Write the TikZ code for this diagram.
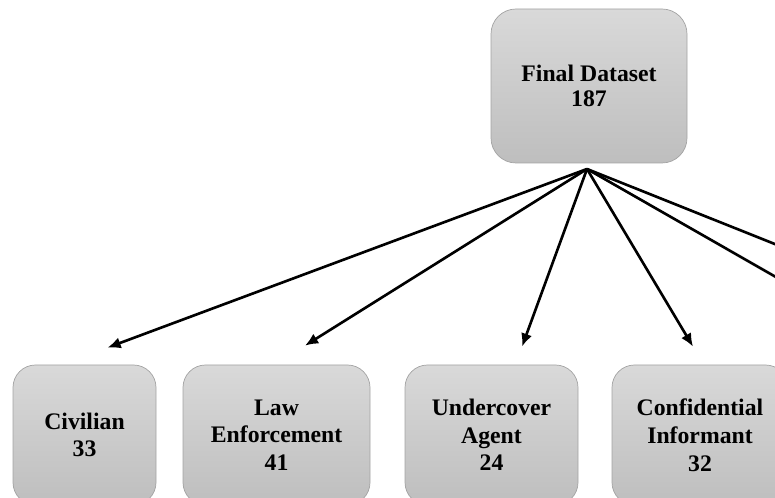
\documentclass[tikz,border=0pt]{standalone}
\usepackage{fontspec}
\setmainfont{Liberation Serif}
\usetikzlibrary{arrows.meta}
\definecolor{boxtop}{HTML}{D9D9D9}
\definecolor{boxbottom}{HTML}{BEBEBE}
\definecolor{boxline}{HTML}{A3A3A3}
\begin{document}
\begin{tikzpicture}[
 category/.style={draw=boxline,top color=boxtop,bottom color=boxbottom,
   rounded corners=0.45cm,minimum height=2.8cm,inner sep=2pt,align=center,
   font=\fontsize{13.5}{15.8}\selectfont\bfseries},
 dataset/.style={category,minimum width=3.92cm,minimum height=3.08cm,
   rounded corners=0.5cm,font=\fontsize{13.5}{14.4}\selectfont\bfseries},
 split/.style={-{Latex[length=7.5pt,width=6.5pt]},line width=1.5pt}
]
\useasboundingbox (0,0) rectangle (15.5,9.96);
\clip (0,0) rectangle (15.5,9.96);
\node[dataset] (final) at (11.78,8.24) {Final Dataset\\187};
\coordinate (hub) at (11.74,6.58);
\node[category,minimum width=2.86cm] (civilian) at (1.69,1.26) {Civilian\\33};
\node[category,minimum width=3.74cm] (lawenf) at (5.53,1.26) {Law\\Enforcement\\41};
\node[category,minimum width=3.46cm] (undercover) at (9.83,1.26) {Undercover\\Agent\\24};
\node[category,minimum width=3.52cm] (informant) at (14.0,1.26) {Confidential\\Informant\\32};
% two more groups lie past the right edge
\coordinate (beyond1) at (20.0,3.28);
\coordinate (beyond2) at (18.0,3.00);
\draw[split] (hub) -- ([xshift=0.46cm,yshift=0.34cm]civilian.north);
\draw[split] (hub) -- ([xshift=0.57cm,yshift=0.38cm]lawenf.north);
\draw[split] (hub) -- ([xshift=0.61cm,yshift=0.36cm]undercover.north);
\draw[split] (hub) -- ([xshift=-0.14cm,yshift=0.36cm]informant.north);
\draw[split] (hub) -- (beyond1);
\draw[split] (hub) -- (beyond2);
\end{tikzpicture}
\end{document}
